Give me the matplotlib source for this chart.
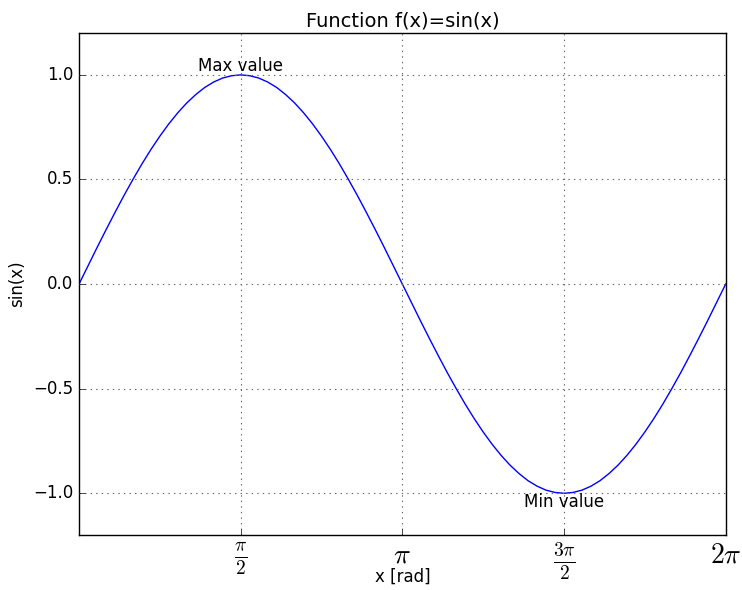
import matplotlib
matplotlib.use('Agg')
import matplotlib.pyplot as plt
import numpy as np

plt.style.use('classic')
plt.rcParams['mathtext.fontset'] = 'cm'

# sample points (x in degrees, every 5 degrees)
x_deg = list(range(0, 365, 5))
y_vals = [0.0, 0.087, 0.174, 0.259, 0.342, 0.423, 0.5, 0.574, 0.643, 0.707,
          0.766, 0.819, 0.866, 0.906, 0.94, 0.966, 0.985, 0.996, 1.0,
          0.996, 0.985, 0.966, 0.94, 0.906, 0.866, 0.819, 0.766, 0.707,
          0.643, 0.574, 0.5, 0.423, 0.342, 0.259, 0.174, 0.087, 0.0,
          -0.087, -0.174, -0.259, -0.342, -0.423, -0.5, -0.574, -0.643, -0.707,
          -0.766, -0.819, -0.866, -0.906, -0.94, -0.966, -0.985, -0.996, -1.0,
          -0.996, -0.985, -0.966, -0.94, -0.906, -0.866, -0.819, -0.766, -0.707,
          -0.643, -0.574, -0.5, -0.423, -0.342, -0.259, -0.174, -0.087, 0.0]

tick_pos = [np.pi / 2, np.pi, 3 * np.pi / 2, 2 * np.pi]
tick_labels = [r'$\frac{\pi}{2}$', r'$\pi$', r'$\frac{3\pi}{2}$', r'$2\pi$']

x = np.deg2rad(x_deg)

fig = plt.figure(figsize=(7.42, 5.9), dpi=100, facecolor='white')
ax = fig.add_axes([0.1065, 0.093, 0.8715, 0.851])

ax.plot(x, y_vals, color='b', linewidth=1.0)

ax.set_xlim(0, 2 * np.pi)
ax.set_ylim(-1.2, 1.2)
ax.set_xticks(tick_pos)
ax.set_xticklabels(tick_labels, fontsize=20)
ax.set_yticks([-1.0, -0.5, 0.0, 0.5, 1.0])
ax.tick_params(axis='y', labelsize=12)
ax.tick_params(top=False, right=False)

ax.grid(True, linestyle=':', color='0.4', linewidth=0.8)

ax.set_title('Function f(x)=sin(x)', fontsize=14)
ax.set_xlabel('x [rad]', fontsize=12, labelpad=-10)
ax.set_ylabel('sin(x)', fontsize=12)

ax.text(np.pi / 2, 1.0, 'Max value', ha='center', va='bottom', fontsize=12)
ax.text(3 * np.pi / 2, -1.0, 'Min value', ha='center', va='top', fontsize=12)

fig.savefig('out.png', dpi=100, facecolor='white')
